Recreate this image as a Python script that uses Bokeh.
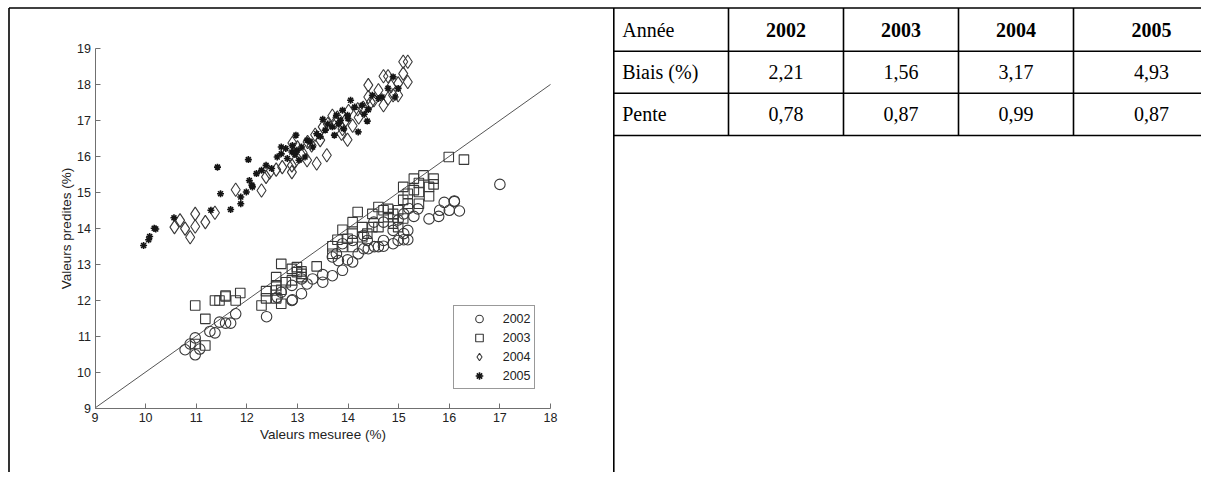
from bokeh.plotting import figure
from bokeh.models import Legend, LegendItem, Range1d
from bokeh.core.properties import value
from bokeh.embed import file_html
from bokeh.resources import INLINE

# ---------------- data ----------------
x2002 = [10.78, 10.98, 10.98, 10.88, 11.07, 11.27, 11.37, 11.46, 11.58, 11.68,
         11.78, 12.39, 12.68, 12.89, 13.08, 13.19, 13.30, 13.50, 13.50, 13.69,
         13.69, 13.81, 13.89, 13.99, 14.09, 14.20, 14.31, 14.40, 14.52, 14.60,
         14.70, 14.70, 14.89, 14.99, 15.10, 15.18, 15.18, 15.10, 15.30, 15.38,
         15.60, 15.79, 15.81, 15.90, 16.00, 16.10, 16.20, 17.00, 14.89, 14.70,
         14.51, 14.31, 14.09, 13.89, 14.99, 15.10, 13.77, 12.89, 13.08, 12.60,
         14.38, 12.90, 16.10, 15.20]
y2002 = [10.62, 10.48, 10.95, 10.78, 10.64, 11.13, 11.09, 11.39, 11.36, 11.36,
         11.62, 11.54, 12.22, 11.99, 12.18, 12.45, 12.59, 12.50, 12.71, 12.68,
         13.20, 13.10, 12.83, 13.12, 13.06, 13.29, 13.43, 13.43, 13.49, 13.49,
         13.50, 13.66, 13.57, 13.66, 13.68, 13.68, 13.94, 13.85, 14.33, 14.54,
         14.26, 14.33, 14.50, 14.72, 14.50, 14.76, 14.48, 15.22, 13.94, 14.17,
         14.17, 13.80, 13.66, 13.57, 14.23, 14.40, 13.29, 12.41, 12.59, 12.08,
         13.66, 12.01, 14.74, 14.55]

x2003 = [10.98, 10.98, 11.18, 11.18, 11.37, 11.46, 11.58, 11.78, 11.87, 12.29,
         12.38, 12.38, 12.58, 12.58, 12.58, 12.58, 12.68, 12.68, 12.77, 12.89,
         12.89, 12.99, 13.08, 13.08, 13.38, 13.69, 13.69, 13.79, 13.89, 13.89,
         13.99, 14.09, 14.09, 14.09, 14.19, 14.28, 14.28, 14.48, 14.48, 14.60,
         14.70, 14.79, 14.79, 14.89, 14.89, 14.99, 15.09, 15.09, 15.09, 15.18,
         15.18, 15.30, 15.30, 15.40, 15.40, 15.49, 15.60, 15.60, 15.69, 15.69,
         15.99, 16.29, 15.40, 14.99, 14.60, 14.38, 12.68, 11.58, 13.08, 12.99]
y2003 = [11.85, 10.78, 11.48, 10.74, 11.99, 11.99, 12.13, 11.99, 12.20, 11.85,
         12.25, 12.05, 12.64, 12.41, 12.27, 12.05, 13.01, 11.90, 12.50, 12.87,
         12.55, 12.92, 12.73, 12.64, 12.94, 13.50, 13.29, 13.68, 13.96, 13.48,
         13.71, 14.17, 13.85, 13.48, 14.45, 14.03, 13.75, 14.40, 14.03, 14.59,
         14.50, 14.54, 14.31, 14.40, 14.13, 14.50, 15.15, 14.79, 14.27, 14.96,
         14.68, 15.38, 15.06, 15.26, 15.01, 15.47, 15.15, 14.89, 15.38, 15.22,
         15.98, 15.91, 14.68, 14.03, 14.03, 13.85, 12.29, 12.10, 12.80, 12.78]

x2004 = [10.57, 10.68, 10.78, 10.88, 10.98, 10.98, 11.18, 11.37, 11.78, 12.29,
         12.38, 12.58, 12.89, 12.89, 13.08, 13.19, 13.38, 13.28, 13.50, 13.58,
         13.69, 13.89, 13.99, 14.09, 14.19, 14.28, 14.40, 14.40, 14.51, 14.70,
         14.70, 14.79, 14.89, 14.99, 14.99, 15.09, 15.18, 15.09, 15.18, 14.79,
         13.87, 13.79, 14.01, 12.90, 13.45, 14.21, 14.60, 13.00, 13.20, 13.60,
         13.75, 14.30, 14.85, 12.45, 12.70, 13.35, 13.95, 14.45, 13.10, 12.95]
y2004 = [14.03, 14.22, 13.99, 13.75, 14.40, 14.05, 14.17, 14.43, 15.07, 15.05,
         15.43, 15.63, 15.56, 15.75, 16.03, 15.89, 15.80, 16.30, 16.82, 16.03,
         17.13, 16.76, 16.46, 16.85, 17.31, 17.31, 17.98, 17.65, 17.56, 17.42,
         18.23, 18.23, 17.70, 17.70, 18.03, 18.63, 18.63, 18.30, 18.07, 17.61,
         16.63, 17.08, 17.26, 16.37, 16.45, 17.08, 17.84, 16.25, 16.40, 16.90,
         16.95, 17.35, 17.95, 15.55, 15.70, 16.60, 17.00, 17.50, 16.10, 15.85]

x2005 = [9.96, 10.06, 10.08, 10.17, 10.20, 10.56, 11.29, 11.42, 11.48, 11.68,
         11.88, 11.88, 11.99, 12.03, 12.05, 12.11, 12.19, 12.29, 12.38, 12.49,
         12.68, 12.68, 12.77, 12.89, 12.97, 12.99, 13.08, 13.19, 13.30, 13.38,
         13.50, 13.55, 13.69, 13.77, 13.81, 13.89, 13.99, 14.05, 14.20, 14.28,
         14.38, 14.48, 14.60, 14.79, 14.89, 14.99, 12.60, 12.80, 13.15, 13.91,
         14.13, 14.32, 13.73, 13.03, 14.67, 14.93, 12.10, 12.95, 13.45, 13.85,
         13.25, 13.60, 14.00, 12.90, 14.40]
y2005 = [13.52, 13.68, 13.77, 14.00, 13.98, 14.29, 14.50, 15.70, 14.96, 14.52,
         14.87, 14.68, 15.01, 15.91, 15.33, 15.15, 15.52, 15.61, 15.75, 15.66,
         16.26, 16.07, 16.22, 16.12, 16.59, 16.17, 16.26, 16.45, 16.26, 16.63,
         17.03, 16.73, 16.82, 17.14, 16.91, 17.28, 17.14, 17.56, 16.68, 17.42,
         16.98, 17.70, 17.61, 17.89, 18.21, 17.89, 15.98, 15.94, 15.98, 16.77,
         17.37, 17.17, 16.59, 15.89, 17.65, 17.65, 15.20, 16.05, 16.55, 17.00,
         16.40, 16.90, 17.05, 16.30, 17.30]

diag_x = [9, 18]
diag_y = [9, 18]

x_ticks = [9, 10, 11, 12, 13, 14, 15, 16, 17, 18]
y_ticks = [9, 10, 11, 12, 13, 14, 15, 16, 17, 18, 19]

years = ["2002", "2003", "2004", "2005"]
row_labels = ["Année", "Biais (%)", "Pente"]
biais = ["2,21", "1,56", "3,17", "4,93"]
pente = ["0,78", "0,87", "0,99", "0,87"]

# ---------------- layout constants (pixels) ----------------
W, H = 1201, 472
X9_PX, X18_PX = 94.5, 550.0       # where x=9 and x=18 fall
Y9_PX, Y19_PX = 407.5, 48.0       # where y=9 and y=19 fall
kx = (X18_PX - X9_PX) / 9.0
ky = (Y9_PX - Y19_PX) / 10.0

TXT = "#222222"
MK = "#383838"
AX = "#707070"

p = figure(width=W, height=H, title=None,
           x_range=Range1d(9 - X9_PX / kx, 9 + (W - X9_PX) / kx),
           y_range=Range1d(9 - (H - Y9_PX) / ky, 19 + Y19_PX / ky),
           min_border=0, toolbar_location=None, output_backend="svg")
p.extra_x_ranges = {"px": Range1d(0, W)}
p.extra_y_ranges = {"px": Range1d(H, 0)}
p.outline_line_color = None
p.grid.visible = False
p.background_fill_color = "white"
p.border_fill_color = "white"

for ax in (p.xaxis[0], p.yaxis[0]):
    ax.fixed_location = 9
    ax.axis_line_color = AX
    ax.major_tick_line_color = AX
    ax.major_tick_in = 5
    ax.major_tick_out = 0
    ax.minor_tick_line_color = None
    ax.major_label_text_font = "Liberation Sans"
    ax.major_label_text_font_size = "12.5px"
    ax.major_label_text_color = TXT
    ax.axis_label_text_font = "Liberation Sans"
    ax.axis_label_text_font_size = "13.5px"
    ax.axis_label_text_font_style = "normal"
    ax.axis_label_text_color = TXT

p.xaxis.ticker = x_ticks
p.yaxis.ticker = y_ticks
p.xaxis.bounds = (9, 18)
p.yaxis.bounds = (9, 19)
p.xaxis.axis_label = "Valeurs mesuree (%)"
p.yaxis.axis_label = "Valeurs predites (%)"
p.xaxis.major_label_standoff = 5
p.yaxis.major_label_standoff = 4
p.xaxis.axis_label_standoff = 1
p.yaxis.axis_label_standoff = 1

# 1:1 line
p.line(diag_x, diag_y, line_color="#555555", line_width=1)

r02 = p.scatter(x2002, y2002, marker="circle", size=10.5, fill_color=None,
                line_color=MK, line_width=1.1)
r03 = p.scatter(x2003, y2003, marker="square", size=9.5, fill_color=None,
                line_color=MK, line_width=1.1)
r04 = p.scatter(x2004, y2004, marker="diamond", size=13.5, fill_color=None,
                line_color=MK, line_width=1.1)
r05 = p.scatter(x2005, y2005, marker="asterisk", size=7, fill_color=None,
                line_color="#151515", line_width=1.6)

LEG_LEFT, LEG_BOTTOM = 452.7, 389.3
legend = Legend(items=[LegendItem(label=years[0], renderers=[r02]),
                       LegendItem(label=years[1], renderers=[r03]),
                       LegendItem(label=years[2], renderers=[r04]),
                       LegendItem(label=years[3], renderers=[r05])],
                location=(LEG_LEFT, H - LEG_BOTTOM), margin=0, padding=3, spacing=0,
                glyph_width=44, glyph_height=19, label_height=19, label_standoff=2,
                label_text_font="Liberation Sans", label_text_font_size="12.5px",
                label_text_color=TXT, border_line_color="#333333", border_line_width=1,
                background_fill_color="white", background_fill_alpha=1)
p.add_layout(legend)

# ---------------- table / cell borders (pixel coordinates) ----------------
LEFT_X, TOP_Y, DIV_X = 8.5, 7.5, 613.3
row_lines = [50.7, 92.7, 135.0]
col_edges = [728, 843, 958, 1073, 1229]
LW = 1.6
kw = dict(x_range_name="px", y_range_name="px", line_color="black", line_width=LW)

# outer border (left, top) and the cell divider
p.segment(x0=[LEFT_X, LEFT_X, DIV_X], y0=[TOP_Y, TOP_Y, TOP_Y],
          x1=[LEFT_X, W, DIV_X], y1=[H, TOP_Y, H], **kw)
# table rows and columns
p.segment(x0=[DIV_X] * 3, y0=row_lines, x1=[W] * 3, y1=row_lines, **kw)
p.segment(x0=col_edges[:4], y0=[TOP_Y] * 4, x1=col_edges[:4], y1=[row_lines[-1]] * 4, **kw)

baselines = [29.5, 71.5, 113.7]
col_mid = [(col_edges[i] + col_edges[i + 1]) / 2 for i in range(4)]
FS = "20px"
tk = dict(x_range_name="px", y_range_name="px", text_font=value("Liberation Serif"),
          text_font_size=FS, text_baseline="alphabetic", text_color="black")

p.text(x=[621.7] * 3, y=baselines, text=row_labels, text_align="left", **tk)
p.text(x=col_mid, y=[baselines[0]] * 4, text=years, text_align="center",
       text_font_style="bold", **tk)
p.text(x=col_mid, y=[baselines[1]] * 4, text=biais, text_align="center", **tk)
p.text(x=col_mid, y=[baselines[2]] * 4, text=pente, text_align="center", **tk)

open("out.html", "w").write(file_html(p, INLINE))
